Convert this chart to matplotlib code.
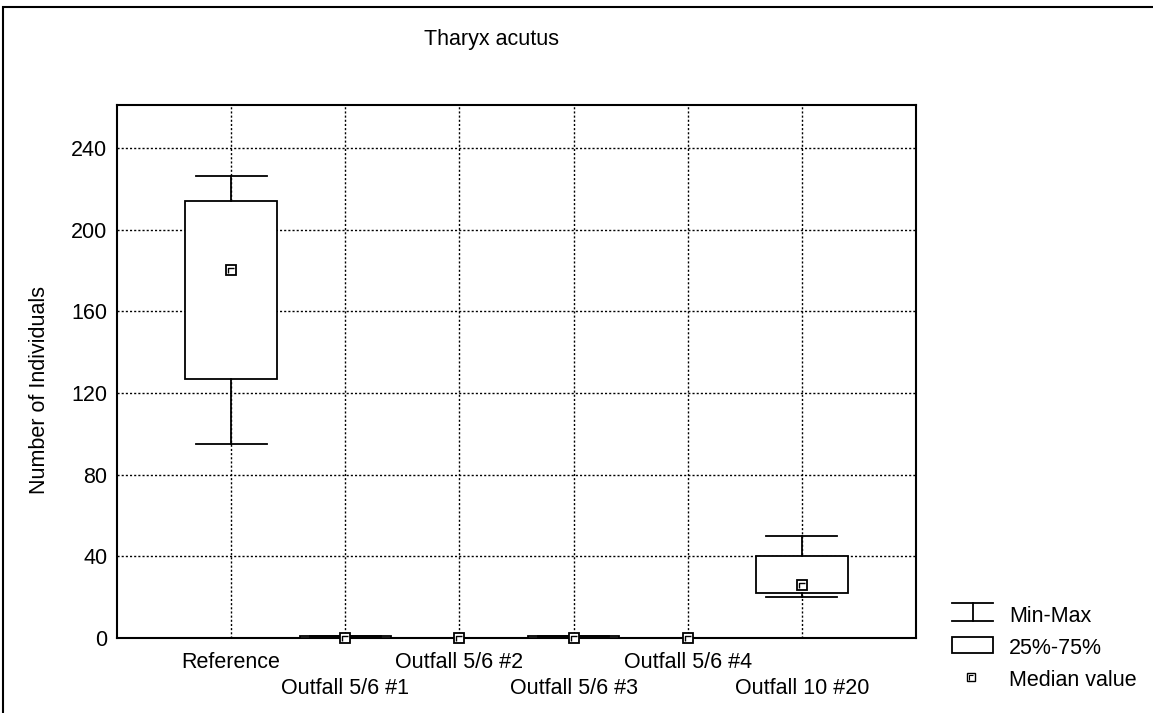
import matplotlib
matplotlib.use("Agg")
import matplotlib.pyplot as plt
from matplotlib.lines import Line2D
from matplotlib.patches import Rectangle
from matplotlib.path import Path

plt.rcParams['font.family'] = ['Liberation Sans', 'DejaVu Sans']

# values
groups = ["Reference", "Outfall 5/6 #1", "Outfall 5/6 #2", "Outfall 5/6 #3",
          "Outfall 5/6 #4", "Outfall 10 #20"]
mins = [95, 0, 0, 0, 0, 20]
q1s = [127, 0, 0, 0, 0, 22]
medians = [180, 0, 0, 0, 0, 26]
q3s = [214, 1, 0, 1, 0, 40]
maxs = [226, 1, 0, 1, 0, 50]
yticks = [0, 40, 80, 120, 160, 200, 240]

FS = 15.5
W, H = 1153, 713
fig = plt.figure(figsize=(W / 100, H / 100), dpi=100)

def px(x, y):
    return x / W, 1 - y / H

ax = fig.add_axes([117 / W, 1 - 638 / H, (916 - 117) / W, (638 - 105) / H])

positions = list(range(1, len(groups) + 1))
stats = []
for i in range(len(groups)):
    stats.append({"whislo": mins[i], "q1": q1s[i], "med": medians[i],
                  "q3": q3s[i], "whishi": maxs[i]})

ax.bxp(stats, positions=positions, widths=0.8, capwidths=0.62,
       patch_artist=True, showfliers=False,
       boxprops=dict(facecolor="white", edgecolor="black", linewidth=1.3),
       whiskerprops=dict(color="black", linewidth=1.3),
       capprops=dict(color="black", linewidth=1.3),
       medianprops=dict(linewidth=0), zorder=3)

# median marker: small square with a corner tick inside
corner = Path([(-0.35, -0.45), (-0.35, 0.3), (0.35, 0.3)],
              [Path.MOVETO, Path.LINETO, Path.LINETO])
ax.plot(positions, medians, linestyle="none", marker="s", markersize=7.5,
        markerfacecolor="white", markeredgecolor="black", markeredgewidth=1.3,
        zorder=5, clip_on=False)
ax.plot(positions, medians, linestyle="none", marker=corner, markersize=5,
        markerfacecolor="none", markeredgecolor="black", markeredgewidth=1,
        zorder=6, clip_on=False)

ax.set_xlim(0, 7)
ax.set_ylim(0, 261)
ax.set_yticks(yticks)
ax.set_xticks(positions)
ax.set_xticklabels([])
ax.tick_params(length=0, labelsize=FS, pad=7)
ax.grid(True, linestyle=(0, (1.5, 1.5)), color="black", linewidth=1)
ax.set_axisbelow(True)
for s in ax.spines.values():
    s.set_linewidth(1.5)

# staggered category labels
for i, (p, g) in enumerate(zip(positions, groups)):
    off = -25 if i % 2 == 0 else -50
    ax.annotate(g, xy=(p, 0), xycoords=ax.get_xaxis_transform(),
                xytext=(0, off), textcoords="offset pixels",
                ha="center", va="center", fontsize=FS)

fig.text(40 / W, 1 - 390 / H, "Number of Individuals", rotation=90,
         fontsize=FS, ha="center", va="center")
fig.text(*px(492, 39), "Tharyx acutus", fontsize=FS, ha="center", va="center")

# outer frame
fig.add_artist(Rectangle(px(3, 760), 1.2, 753 / H, transform=fig.transFigure,
                         fill=False, edgecolor="black", linewidth=1.5))

# legend
lw = 1.3
fig.add_artist(Line2D(*zip(px(952, 603), px(993, 603)), color="black", lw=lw))
fig.add_artist(Line2D(*zip(px(952, 621), px(993, 621)), color="black", lw=lw))
fig.add_artist(Line2D(*zip(px(973, 603), px(973, 621)), color="black", lw=lw))
fig.text(*px(1009, 616), "Min-Max", fontsize=FS, va="center")
x0, y0 = px(952, 653)
x1, y1 = px(993, 637)
fig.add_artist(Rectangle((x0, y0), x1 - x0, y1 - y0, transform=fig.transFigure,
                         fill=False, edgecolor="black", linewidth=lw))
fig.text(*px(1009, 648), "25%-75%", fontsize=FS, va="center")
mx, my = px(971, 677)
fig.add_artist(Line2D([mx], [my], marker="s", markersize=6, markerfacecolor="white",
                      markeredgecolor="black", markeredgewidth=1, linestyle="none"))
fig.add_artist(Line2D([mx], [my], marker=corner, markersize=4, markerfacecolor="none",
                      markeredgecolor="black", markeredgewidth=0.8, linestyle="none"))
fig.text(*px(1009, 680), "Median value", fontsize=FS, va="center")

fig.savefig("out.png", dpi=100)
